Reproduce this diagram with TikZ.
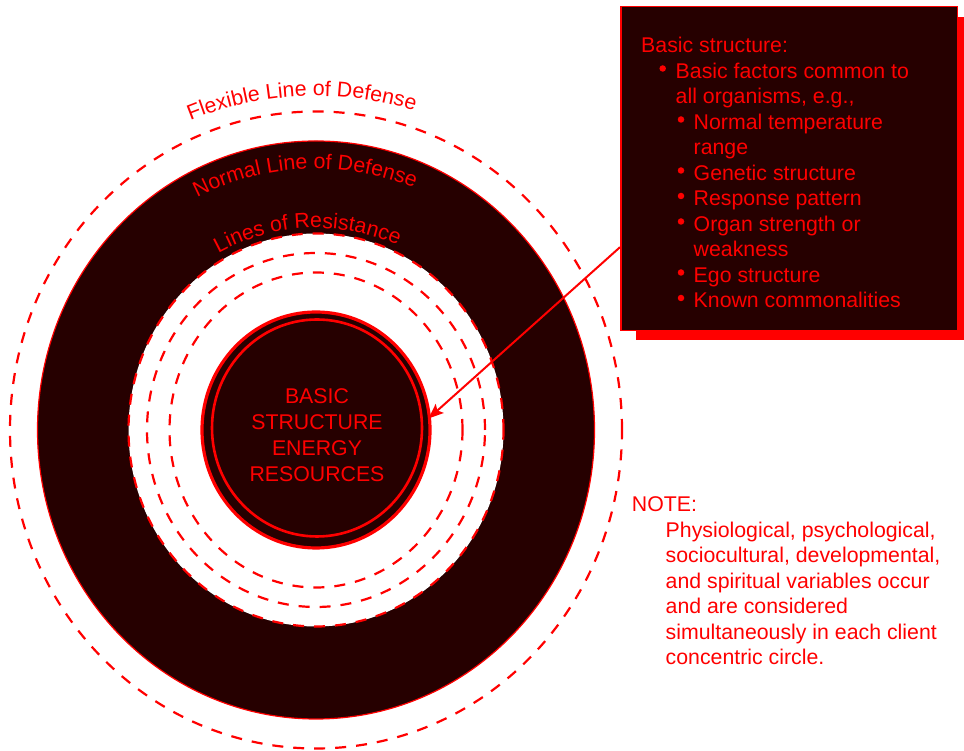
\documentclass[tikz,border=0pt]{standalone}
\usepackage{fontspec}
\setmainfont{Liberation Sans}
\usetikzlibrary{decorations.text,arrows.meta,calc}
\definecolor{dkred}{RGB}{38,0,0}
\definecolor{lred}{RGB}{255,0,0}
\tikzset{
  dashring/.style={draw=lred, line width=2.2pt, dash pattern=on 11pt off 10pt},
  txt/.style={text=lred, font=\fontsize{21.3}{25.5}\selectfont, inner sep=0pt, anchor=base west},
  ctxt/.style={text=lred, font=\fontsize{21.3}{25.5}\selectfont, inner sep=0pt, anchor=base},
  dot/.style={circle, fill=lred, inner sep=0pt, minimum size=6.5pt},
  arclabel/.style={decorate, decoration={text along path, text color=lred, text align=center, text={|\fontsize{21.3}{21.3}\selectfont|#1}}},
  infobox/.style={draw=lred, fill=dkred, line width=1.5pt, inner sep=0pt, anchor=north west},
}
\begin{document}
\begin{tikzpicture}[x=1pt,y=1pt]
\useasboundingbox (0,0) rectangle (964,751);
\fill[white] (0,0) rectangle (964,751);
\coordinate (c) at (316,321);
% rings
\draw[dashring] (c) ellipse [x radius=306, y radius=318.5];
\draw[fill=dkred, draw=lred, line width=1.2pt] (c) ellipse [x radius=278.5, y radius=289];
\draw[dashring, fill=white] (c) ellipse [x radius=187.5, y radius=196.5];
\draw[dashring] (c) ellipse [x radius=169, y radius=177];
\draw[dashring] (c) ellipse [x radius=146.5, y radius=157.5];
\draw[fill=dkred, draw=lred, line width=3.2pt] (c) ellipse [x radius=114, y radius=118];
\draw[draw=lred, line width=2.6pt] (317,323) ellipse [x radius=105, y radius=108.5];
% curved labels
\path[arclabel=Flexible Line of Defense] (c) ++(132.5:334) arc[start angle=132.5, end angle=52.5, radius=334];
\path[arclabel=Normal Line of Defense] (c) ++(137.5:261) arc[start angle=137.5, end angle=47.5, radius=261];
\path[arclabel=Lines of Resistance] (c) ++(142.5:202) arc[start angle=142.5, end angle=42.5, radius=202];
% center text
\node[ctxt] (t1) at (317,347) {BASIC};
\node[ctxt] (t2) at (317,321) {STRUCTURE};
\node[ctxt] (t3) at (317,295.3) {ENERGY};
\node[ctxt] (t4) at (317,269.3) {RESOURCES};
% info box
\fill[lred] (636,734.3) rectangle (964,411);
\node[infobox, minimum width=336.7pt, minimum height=324pt] (box) at (620,745) {};
\node[txt] (b0) at (641,698) {Basic structure:};
\node[dot] (d1) at (662.7,682.5) {};
\node[txt] (b1) at (675.5,672.5) {Basic factors common to};
\node[txt] (b2) at (675.5,647) {all organisms, e.g.,};
\node[dot] (d2) at (681,631.5) {};
\node[txt] (b3) at (693.5,621.5) {Normal temperature};
\node[txt] (b4) at (693.5,596) {range};
\node[dot] (d3) at (681,580.5) {};
\node[txt] (b5) at (693.5,570.5) {Genetic structure};
\node[dot] (d4) at (681,555) {};
\node[txt] (b6) at (693.5,545) {Response pattern};
\node[dot] (d5) at (681,529.5) {};
\node[txt] (b7) at (693.5,519.5) {Organ strength or};
\node[txt] (b8) at (693.5,494) {weakness};
\node[dot] (d6) at (681,478.5) {};
\node[txt] (b9) at (693.5,468.5) {Ego structure};
\node[dot] (d7) at (681,453) {};
\node[txt] (b10) at (693.5,443) {Known commonalities};
% note
\node[txt] (n0) at (631.7,239) {NOTE:};
\node[txt] (n1) at (665.5,213.5) {Physiological, psychological,};
\node[txt] (n2) at (665.5,188) {sociocultural, developmental,};
\node[txt] (n3) at (665.5,162.5) {and spiritual variables occur};
\node[txt] (n4) at (665.5,137) {and are considered};
\node[txt] (n5) at (665.5,111.5) {simultaneously in each client};
\node[txt] (n6) at (665.5,86) {concentric circle.};
% arrow
\coordinate (a1) at ($(box.north west)!0.741!(box.south west)$);
\coordinate (a2) at (428.5,332.5);
\draw[lred, line width=2pt, -{Stealth[length=15pt,width=12pt,inset=3pt]}] (a1) -- (a2);
\end{tikzpicture}
\end{document}
